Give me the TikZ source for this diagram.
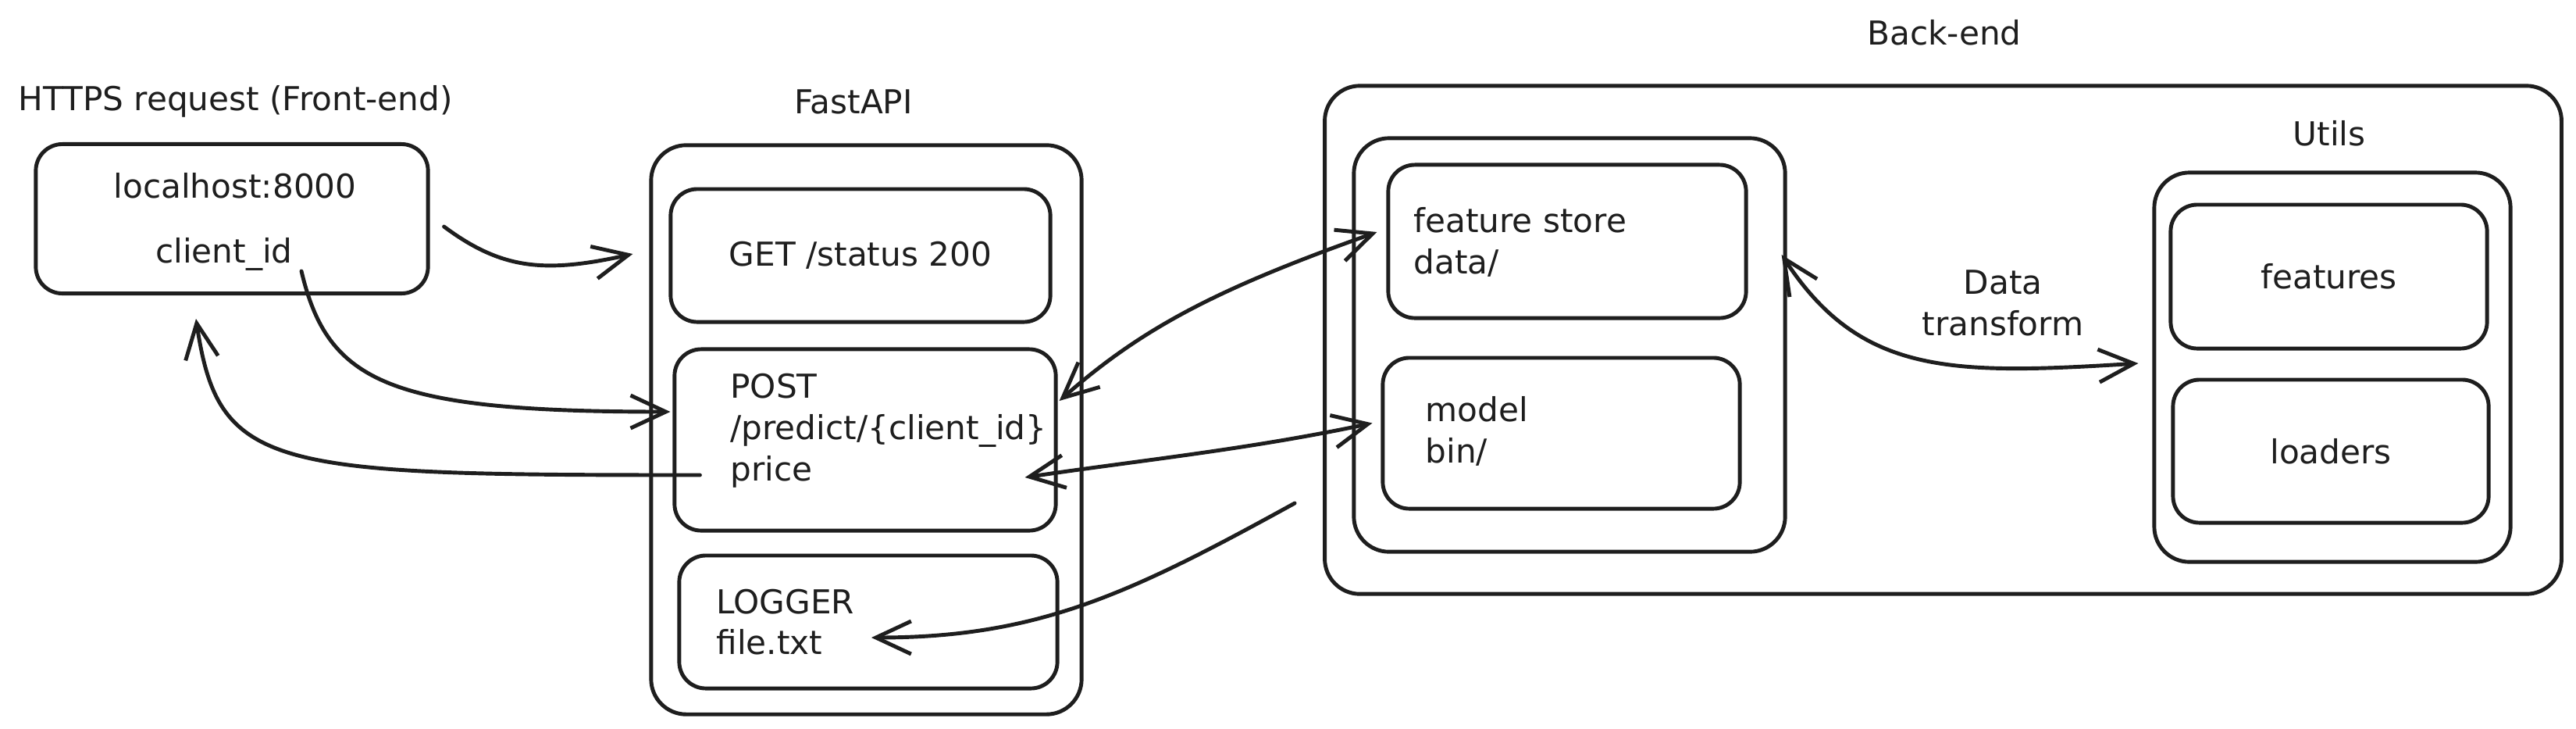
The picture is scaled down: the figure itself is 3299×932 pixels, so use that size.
\documentclass[tikz,border=0pt]{standalone}
\usepackage{fontspec}
\setmainfont{DejaVu Sans}
\usetikzlibrary{arrows.meta}

\begin{document}
\begin{tikzpicture}[x=0.01cm, y=-0.01cm, line width=1.4pt, line cap=round, line join=round,
    every node/.style={text=ink, font=\fontsize{12}{15}\selectfont},
    box/.style={draw=ink, rounded corners=0.34cm, inner sep=0},
    frame/.style={draw=ink, rounded corners=0.45cm, inner sep=0},
    txt/.style={inner sep=0, align=left, anchor=west},
    link/.style={draw=ink, -{Straight Barb[length=0.45cm,width=0.42cm]}},
    twoway/.style={draw=ink, {Straight Barb[length=0.45cm,width=0.42cm]}-{Straight Barb[length=0.45cm,width=0.42cm]}}]
    \definecolor{ink}{RGB}{30,30,30}
    \useasboundingbox (0,0) rectangle (3299,932);
    \fill [white] (0,0) rectangle (3299,932);
    % front-end
    \node [txt] (FE_title) at (21,130) {HTTPS request (Front-end)};
    \node [box, minimum width=5.02cm, minimum height=1.91cm] (FE_box) at (297,280) {};
    \node [inner sep=0] (FE_host) at (301,238) {localhost:8000};
    \node [inner sep=0] (FE_id) at (287,325) {client\_id};
    % fastapi
    \node (API_title) at (1093,130) {FastAPI};
    \node [frame, minimum width=5.51cm, minimum height=7.28cm] (API_box) at (1109.5,550) {};
    \node [box, minimum width=4.86cm, minimum height=1.70cm] (API_get) at (1102,327) {GET /status 200};
    \node [box, minimum width=4.88cm, minimum height=2.32cm] (API_post) at (1108,563) {};
    \node [txt] (API_post_txt) at (933,551) {POST\\/predict/\{client\_id\}\\price};
    \node [box, minimum width=4.84cm, minimum height=1.70cm] (API_log) at (1112,796) {};
    \node [txt] (API_log_txt) at (915,796) {LOGGER\\file.txt};
    % back-end
    \node (BE_title) at (2490,42) {Back-end};
    \node [frame, minimum width=15.83cm, minimum height=6.50cm] (BE_box) at (2488.5,435) {};
    \node [frame, minimum width=5.52cm, minimum height=5.29cm] (BE_group) at (2010,441.5) {};
    \node [box, minimum width=4.58cm, minimum height=1.96cm] (BE_store) at (2007,309) {};
    \node [txt] (BE_store_txt) at (1808,310) {feature store\\data/};
    \node [box, minimum width=4.57cm, minimum height=1.93cm] (BE_model) at (1999.5,554.5) {};
    \node [txt] (BE_model_txt) at (1823,552) {model\\bin/};
    \node [align=center, inner sep=0] (BE_label) at (2565,388) {Data\\transform};
    % utils
    \node (UT_title) at (2983,171) {Utils};
    \node [frame, minimum width=4.56cm, minimum height=4.98cm] (UT_box) at (2987,470) {};
    \node [box, minimum width=4.05cm, minimum height=1.84cm] (UT_feat) at (2982.5,354) {features};
    \node [box, minimum width=4.04cm, minimum height=1.83cm] (UT_load) at (2985,577.5) {loaders};
    % connectors
    \draw [link] ([shift={(18,10)}]FE_box.east) .. controls +(74,55) and +(-113,25) .. ([shift={(-46,-2)}]API_get.west);
    \draw [link] ([shift={(89,67)}]FE_box.center) .. controls +(34,143) and +(-361,0) .. ([shift={(-3,-36)}]API_post.west);
    \draw [link] ([shift={(35,45)}]API_post.west) .. controls +(-549,0) and +(29,195) .. ([shift={(-46,30)}]FE_box.south);
    \draw [twoway] ([shift={(2,-50)}]API_post.east) .. controls +(106,-93) and +(-206,73) .. ([shift={(-12,-12)}]BE_store.west);
    \draw [twoway] ([shift={(-42,48)}]API_post.east) .. controls +(140,-21) and +(-160,34) .. ([shift={(-11,-13)}]BE_model.west);
    \draw [link] ([shift={(-36,209)}]BE_box.west) .. controls +(-211,116) and +(214,0) .. ([shift={(4,20)}]API_log.center);
    \draw [twoway] ([shift={(43,17)}]BE_store.east) .. controls +(101,154) and +(-241,15) .. ([shift={(-18,-5)}]UT_box.west);
\end{tikzpicture}
\end{document}
